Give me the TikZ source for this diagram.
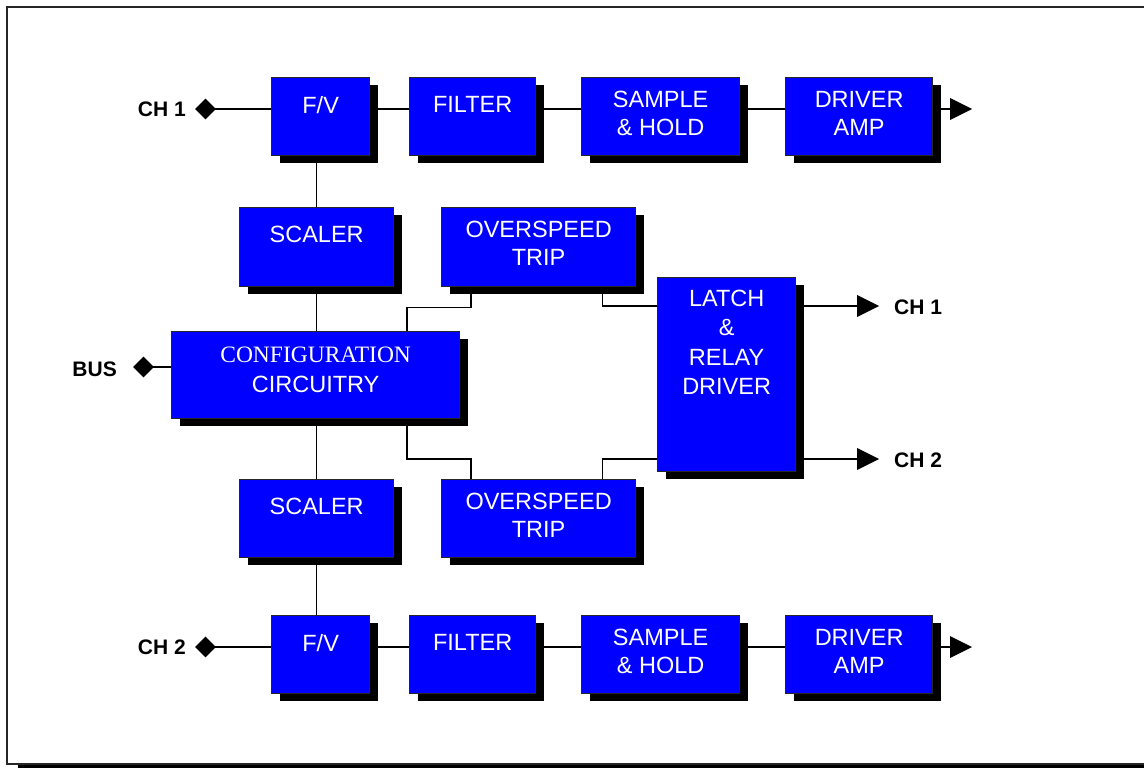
\documentclass[tikz,border=0pt]{standalone}
\usepackage{fontspec}
\setmainfont{Liberation Sans}
\newfontfamily\myserif{Liberation Serif}
\usetikzlibrary{shapes.geometric,shadows,calc,backgrounds}
\definecolor{boxblue}{RGB}{0,0,255}
\tikzset{
  blk/.style={draw=black!85, line width=1.3pt, fill=boxblue, inner sep=0pt, anchor=north west,
    drop shadow={shadow xshift=8pt, shadow yshift=-7pt, opacity=1, fill=black}},
  txt/.style={text=white, inner sep=0pt, anchor=north, align=center, font=\fontsize{23.5}{28}\selectfont},
  lbl/.style={text=black, inner sep=0pt, font=\fontsize{21}{25}\selectfont\bfseries},
  dmd/.style={diamond, fill=black, minimum width=21pt, minimum height=21pt, inner sep=0pt},
  conn/.style={draw=black, line width=1.4pt},
  tip/.style={fill=black}
}
\begin{document}
\begin{tikzpicture}[x=1pt,y=1pt]
\useasboundingbox (0,0) rectangle (1144,-768);
\clip (0,0) rectangle (1144,-768);
% boxes
\node[blk, minimum width=98, minimum height=78] (fv1) at (271,-77) {};
\node[blk, minimum width=126, minimum height=78] (fil1) at (409,-77) {};
\node[blk, minimum width=158, minimum height=78] (sh1) at (581,-77) {};
\node[blk, minimum width=147, minimum height=78] (amp1) at (785,-77) {};
\node[blk, minimum width=154, minimum height=79] (sc1) at (239,-207) {};
\node[blk, minimum width=194, minimum height=79] (ot1) at (441,-207) {};
\node[blk, minimum width=288, minimum height=87] (cfg) at (171,-331) {};
\node[blk, minimum width=138, minimum height=194] (latch) at (657,-277) {};
\node[blk, minimum width=194, minimum height=78] (ot2) at (441,-479) {};
\node[blk, minimum width=154, minimum height=78] (sc2) at (239,-479) {};
\node[blk, minimum width=98, minimum height=78] (fv2) at (271,-615) {};
\node[blk, minimum width=126, minimum height=78] (fil2) at (409,-615) {};
\node[blk, minimum width=158, minimum height=78] (sh2) at (581,-615) {};
\node[blk, minimum width=147, minimum height=78] (amp2) at (785,-615) {};
% texts
\node[txt] (tfv1) at ($(fv1.north)+(0,-19)$) {F/V};
\node[txt] (tfil1) at ($(fil1.north)+(0,-19)$) {FILTER};
\node[txt] (tsh1) at ($(sh1.north)+(0,-14)$) {SAMPLE\\\& HOLD};
\node[txt] (tamp1) at ($(amp1.north)+(0,-14)$) {DRIVER\\AMP};
\node[txt] (tsc1) at ($(sc1.north)+(0,-19)$) {SCALER};
\node[txt] (tot1) at ($(ot1.north)+(0,-14)$) {OVERSPEED\\TRIP};
\node[txt, font=\fontsize{23.5}{30}\selectfont] (tcfg) at ($(cfg.north)+(0,-16)$) {{\myserif CONFIGURATION}\\CIRCUITRY};
\node[txt, font=\fontsize{23.5}{29.3}\selectfont] (tlatch) at ($(latch.north)+(0,-13)$) {LATCH\\\&\\RELAY\\DRIVER};
\node[txt] (tot2) at ($(ot2.north)+(0,-14)$) {OVERSPEED\\TRIP};
\node[txt] (tsc2) at ($(sc2.north)+(0,-19)$) {SCALER};
\node[txt] (tfv2) at ($(fv2.north)+(0,-19)$) {F/V};
\node[txt] (tfil2) at ($(fil2.north)+(0,-19)$) {FILTER};
\node[txt] (tsh2) at ($(sh2.north)+(0,-14)$) {SAMPLE\\\& HOLD};
\node[txt] (tamp2) at ($(amp2.north)+(0,-14)$) {DRIVER\\AMP};
% terminals
\node[dmd] (d1) at (205.5,-109) {};
\node[dmd] (d2) at (205.5,-647) {};
\node[dmd] (dB) at (143.5,-367) {};
\node[lbl, anchor=east] (l1) at (186,-109) {CH 1};
\node[lbl, anchor=east] (l2) at (186,-647) {CH 2};
\node[lbl, anchor=east] (lB) at (117,-369) {BUS};
\node[lbl, anchor=west] (lo1) at (894,-307) {CH 1};
\node[lbl, anchor=west] (lo2) at (894,-460) {CH 2};
\coordinate (r1) at (0,-109);
\coordinate (r2) at (0,-647);
\coordinate (yA) at (0,-306);
\coordinate (yB) at (0,-459);
\coordinate (a1) at (950,-109);
\coordinate (a2) at (950,-647);
\coordinate (ao1) at (857,-306);
\coordinate (ao2) at (857,-459);
\fill[tip] (a1) ++(0,11) -- ++(22,-11) -- ++(-22,-11) -- cycle;
\fill[tip] (a2) ++(0,11) -- ++(22,-11) -- ++(-22,-11) -- cycle;
\fill[tip] (ao1) ++(0,11) -- ++(22,-11) -- ++(-22,-11) -- cycle;
\fill[tip] (ao2) ++(0,11) -- ++(22,-11) -- ++(-22,-11) -- cycle;
\begin{scope}[on background layer]
  % outer frame with shadow
  \fill[black] (18,-18) rectangle (1170,-776);
  \filldraw[fill=white, draw=black!85, line width=2pt] (7,-7) rectangle (1160,-764);
  % top row
  \draw[conn] (d1.center) -- (d1 -| fv1.west);
  \draw[conn] (fv1.east |- r1) -- (fil1.west |- r1);
  \draw[conn] (fil1.east |- r1) -- (sh1.west |- r1);
  \draw[conn] (sh1.east |- r1) -- (amp1.west |- r1);
  \draw[conn] (amp1.east |- r1) -- (a1);
  % bottom row
  \draw[conn] (d2.center) -- (d2 -| fv2.west);
  \draw[conn] (fv2.east |- r2) -- (fil2.west |- r2);
  \draw[conn] (fil2.east |- r2) -- (sh2.west |- r2);
  \draw[conn] (sh2.east |- r2) -- (amp2.west |- r2);
  \draw[conn] (amp2.east |- r2) -- (a2);
  % vertical chain
  \draw[conn] (sc1.north) -- (sc1.north |- fv1.south);
  \draw[conn] (sc1.south) -- (sc1.south |- cfg.north);
  \draw[conn] (sc2.north) -- (sc2.north |- cfg.south);
  \draw[conn] (sc2.south) -- (sc2.south |- fv2.north);
  \draw[conn] (dB.center) -- (dB -| cfg.west);
  % overspeed links
  \draw[conn] ($(cfg.north west)+(236,0)$) |- ($(ot1.south west)+(30,-20)$) -- ($(ot1.south west)+(30,0)$);
  \draw[conn] ($(ot1.south east)+(-34,0)$) |- (latch.west |- yA);
  \draw[conn] ($(cfg.south west)+(236,0)$) |- ($(ot2.north west)+(30,20)$) -- ($(ot2.north west)+(30,0)$);
  \draw[conn] ($(ot2.north east)+(-34,0)$) |- (latch.west |- yB);
  \draw[conn] (latch.east |- yA) -- (ao1);
  \draw[conn] (latch.east |- yB) -- (ao2);
\end{scope}
\end{tikzpicture}
\end{document}
